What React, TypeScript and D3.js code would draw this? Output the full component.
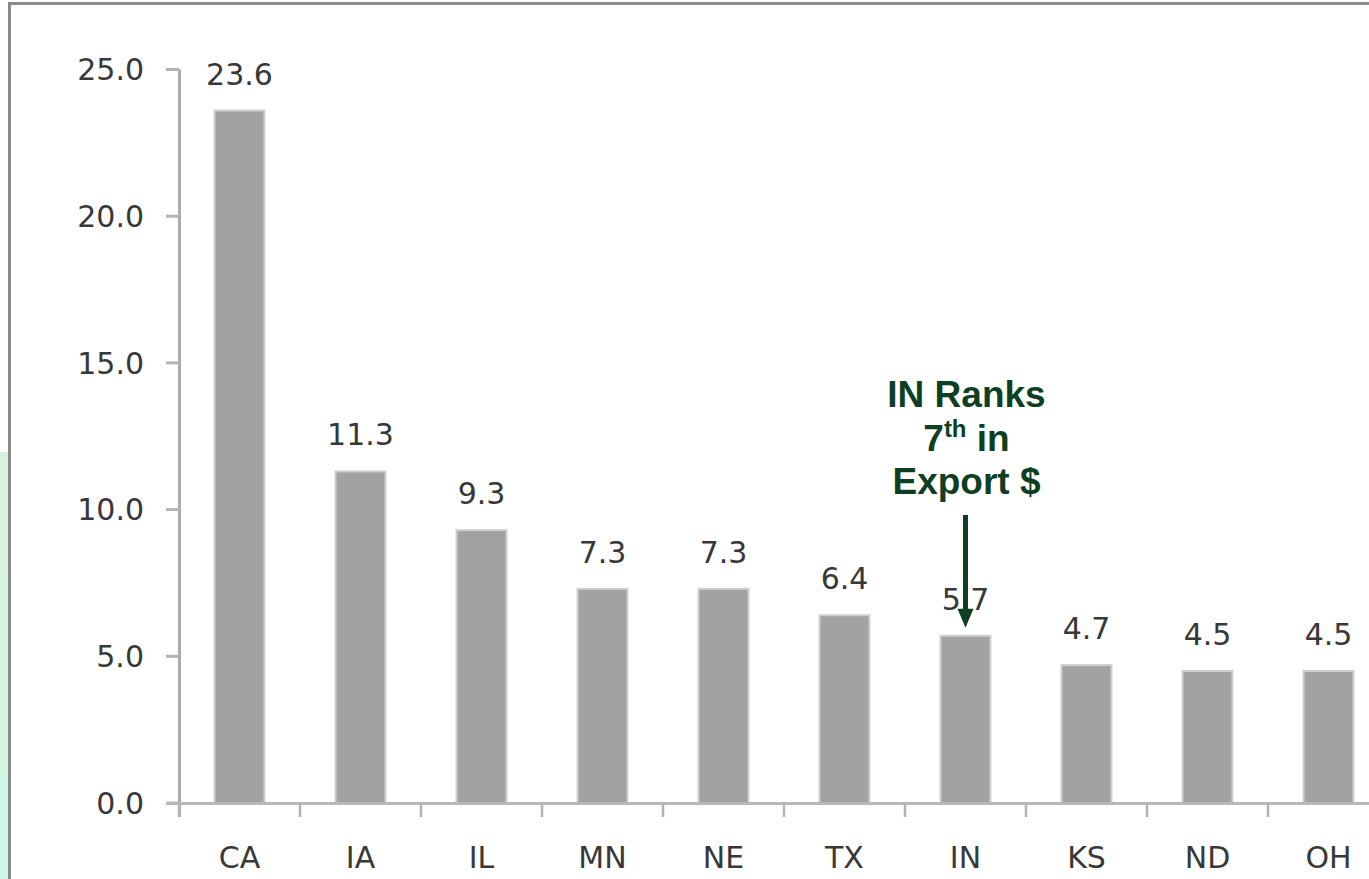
import React from "react";
import * as d3 from "d3";

const categories = ["CA", "IA", "IL", "MN", "NE", "TX", "IN", "KS", "ND", "OH"];
const values = [23.6, 11.3, 9.3, 7.3, 7.3, 6.4, 5.7, 4.7, 4.5, 4.5];
const yTicks = [0, 5, 10, 15, 20, 25];
const annotationLines = ["IN Ranks", "7", "Export $"];

const W = 1369;
const H = 879;

export default function App() {
  const x = d3
    .scaleBand<string>()
    .domain(categories)
    .range([179, 1389])
    .paddingInner(0.587)
    .paddingOuter(0.2935);
  const y = d3.scaleLinear().domain([0, 25]).range([803, 69.5]);
  const step = x.step();
  const boundaries = d3.range(categories.length + 1).map((i) => 179 + i * step);
  const font = "'DejaVu Sans', sans-serif";
  const green = "#0f3f22";
  const ax = (x("IN") as number) + x.bandwidth() / 2;
  const tipY = y(values[6]) - 8;

  return (
    <div style={{ position: "fixed", left: 0, top: 0 }}>
      <svg width={W} height={H} style={{ display: "block", background: "#fff" }}>
        <defs>
          <linearGradient id="lg" x1="0" y1="0" x2="0" y2="1">
            <stop offset="0" stopColor="#d9f2de" />
            <stop offset="0.75" stopColor="#d6f4e0" />
            <stop offset="0.76" stopColor="#cdf8e8" />
            <stop offset="1" stopColor="#cdf8e8" />
          </linearGradient>
        </defs>
        <rect x={0} y={452} width={8} height={H - 452} fill="url(#lg)" />
        {/* frame */}
        <path d={`M9.5,${H} V3.5 H${W}`} fill="none" stroke="#8a8a8a" strokeWidth={3} />

        {/* y axis */}
        <line x1={179.5} x2={179.5} y1={y(25)} y2={817} stroke="#acacac" strokeWidth={3} />
        {yTicks.map((t) => (
          <g key={t}>
            <line x1={166} x2={179} y1={y(t)} y2={y(t)} stroke="#b4b4b4" strokeWidth={3} />
            <text x={144} y={y(t)} dy="0.36em" textAnchor="end" fontFamily={font} fontSize={30} fill="#383838">
              {t.toFixed(1)}
            </text>
          </g>
        ))}

        {/* bars */}
        {categories.map((c, i) => (
          <rect
            key={c}
            x={x(c)}
            y={y(values[i])}
            width={x.bandwidth()}
            height={y(0) - y(values[i])}
            fill="#a2a2a2"
            stroke="#cfcfcf"
            strokeWidth={2}
          />
        ))}

        {/* x axis */}
        <line x1={166} x2={W} y1={803.5} y2={803.5} stroke="#b8b8b8" strokeWidth={3} />
        {boundaries.map((b, i) => (
          <line key={i} x1={b} x2={b} y1={803} y2={817} stroke="#b4b4b4" strokeWidth={2.5} />
        ))}
        {categories.map((c) => (
          <text key={c} x={(x(c) as number) + x.bandwidth() / 2} y={868} textAnchor="middle" fontFamily={font} fontSize={30} fill="#383838">
            {c}
          </text>
        ))}

        {/* value labels */}
        {categories.map((c, i) => (
          <text key={c} x={(x(c) as number) + x.bandwidth() / 2} y={y(values[i]) - 26} textAnchor="middle" fontFamily={font} fontSize={30} fill="#383838">
            {values[i].toFixed(1)}
          </text>
        ))}

        {/* annotation */}
        <g fontFamily="'Liberation Sans', Arial, sans-serif" fontWeight="bold" fill={green} textAnchor="middle">
          <text x={ax + 1} y={407} fontSize={37}>{annotationLines[0]}</text>
          <text x={ax + 1} y={451} fontSize={37}>
            {annotationLines[1]}
            <tspan fontSize={24} dy={-14}>th</tspan>
            <tspan dy={14}> in</tspan>
          </text>
          <text x={ax + 1} y={494} fontSize={37}>{annotationLines[2]}</text>
        </g>
        <line x1={ax} x2={ax} y1={515} y2={tipY - 15} stroke={green} strokeWidth={5} />
        <path d={`M${ax - 8},${tipY - 19} L${ax + 8},${tipY - 19} L${ax},${tipY} Z`} fill={green} />
      </svg>
    </div>
  );
}
